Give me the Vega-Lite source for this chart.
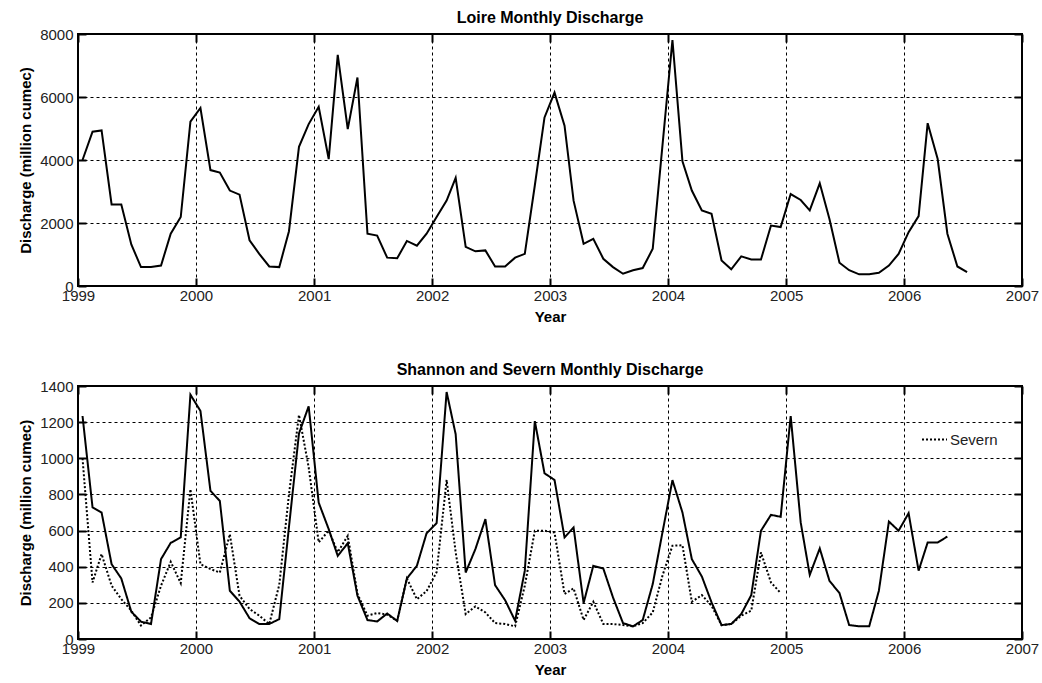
{
  "$schema": "https://vega.github.io/schema/vega-lite/v6.json",
  "padding": {"left": 17, "top": 9, "right": 5, "bottom": 5},
  "background": "white",
  "datasets": {
    "loire": [
      {"date": "1999-01-15", "q": 4000}, {"date": "1999-02-15", "q": 4900}, {"date": "1999-03-15", "q": 4940}, {"date": "1999-04-15", "q": 2590}, {"date": "1999-05-15", "q": 2590}, {"date": "1999-06-15", "q": 1320}, {"date": "1999-07-15", "q": 600}, {"date": "1999-08-15", "q": 600}, {"date": "1999-09-15", "q": 650}, {"date": "1999-10-15", "q": 1660}, {"date": "1999-11-15", "q": 2190}, {"date": "1999-12-15", "q": 5220},
      {"date": "2000-01-15", "q": 5650}, {"date": "2000-02-15", "q": 3680}, {"date": "2000-03-15", "q": 3600}, {"date": "2000-04-15", "q": 3030}, {"date": "2000-05-15", "q": 2900}, {"date": "2000-06-15", "q": 1450}, {"date": "2000-07-15", "q": 1020}, {"date": "2000-08-15", "q": 620}, {"date": "2000-09-15", "q": 600}, {"date": "2000-10-15", "q": 1740}, {"date": "2000-11-15", "q": 4420}, {"date": "2000-12-15", "q": 5140},
      {"date": "2001-01-15", "q": 5690}, {"date": "2001-02-15", "q": 4030}, {"date": "2001-03-15", "q": 7340}, {"date": "2001-04-15", "q": 4980}, {"date": "2001-05-15", "q": 6620}, {"date": "2001-06-15", "q": 1660}, {"date": "2001-07-15", "q": 1600}, {"date": "2001-08-15", "q": 900}, {"date": "2001-09-15", "q": 880}, {"date": "2001-10-15", "q": 1430}, {"date": "2001-11-15", "q": 1280}, {"date": "2001-12-15", "q": 1660},
      {"date": "2002-01-15", "q": 2190}, {"date": "2002-02-15", "q": 2710}, {"date": "2002-03-15", "q": 3430}, {"date": "2002-04-15", "q": 1240}, {"date": "2002-05-15", "q": 1100}, {"date": "2002-06-15", "q": 1130}, {"date": "2002-07-15", "q": 620}, {"date": "2002-08-15", "q": 620}, {"date": "2002-09-15", "q": 900}, {"date": "2002-10-15", "q": 1020}, {"date": "2002-11-15", "q": 3190}, {"date": "2002-12-15", "q": 5350},
      {"date": "2003-01-15", "q": 6140}, {"date": "2003-02-15", "q": 5090}, {"date": "2003-03-15", "q": 2710}, {"date": "2003-04-15", "q": 1340}, {"date": "2003-05-15", "q": 1500}, {"date": "2003-06-15", "q": 865}, {"date": "2003-07-15", "q": 600}, {"date": "2003-08-15", "q": 390}, {"date": "2003-09-15", "q": 500}, {"date": "2003-10-15", "q": 570}, {"date": "2003-11-15", "q": 1180}, {"date": "2003-12-15", "q": 4450},
      {"date": "2004-01-15", "q": 7810}, {"date": "2004-02-15", "q": 3960}, {"date": "2004-03-15", "q": 3030}, {"date": "2004-04-15", "q": 2400}, {"date": "2004-05-15", "q": 2290}, {"date": "2004-06-15", "q": 810}, {"date": "2004-07-15", "q": 530}, {"date": "2004-08-15", "q": 940}, {"date": "2004-09-15", "q": 840}, {"date": "2004-10-15", "q": 840}, {"date": "2004-11-15", "q": 1920}, {"date": "2004-12-15", "q": 1870},
      {"date": "2005-01-15", "q": 2920}, {"date": "2005-02-15", "q": 2730}, {"date": "2005-03-15", "q": 2400}, {"date": "2005-04-15", "q": 3260}, {"date": "2005-05-15", "q": 2130}, {"date": "2005-06-15", "q": 740}, {"date": "2005-07-15", "q": 500}, {"date": "2005-08-15", "q": 370}, {"date": "2005-09-15", "q": 370}, {"date": "2005-10-15", "q": 420}, {"date": "2005-11-15", "q": 650}, {"date": "2005-12-15", "q": 1020},
      {"date": "2006-01-15", "q": 1710}, {"date": "2006-02-15", "q": 2220}, {"date": "2006-03-15", "q": 5170}, {"date": "2006-04-15", "q": 4030}, {"date": "2006-05-15", "q": 1660}, {"date": "2006-06-15", "q": 620}, {"date": "2006-07-15", "q": 440}
    ],
    "ss": [
      {"date": "1999-01-15", "river": "Shannon", "q": 1234}, {"date": "1999-02-15", "river": "Shannon", "q": 728}, {"date": "1999-03-15", "river": "Shannon", "q": 700}, {"date": "1999-04-15", "river": "Shannon", "q": 414}, {"date": "1999-05-15", "river": "Shannon", "q": 335}, {"date": "1999-06-15", "river": "Shannon", "q": 151}, {"date": "1999-07-15", "river": "Shannon", "q": 96}, {"date": "1999-08-15", "river": "Shannon", "q": 83}, {"date": "1999-09-15", "river": "Shannon", "q": 442}, {"date": "1999-10-15", "river": "Shannon", "q": 532}, {"date": "1999-11-15", "river": "Shannon", "q": 562}, {"date": "1999-12-15", "river": "Shannon", "q": 1352},
      {"date": "2000-01-15", "river": "Shannon", "q": 1262}, {"date": "2000-02-15", "river": "Shannon", "q": 820}, {"date": "2000-03-15", "river": "Shannon", "q": 764}, {"date": "2000-04-15", "river": "Shannon", "q": 267}, {"date": "2000-05-15", "river": "Shannon", "q": 207}, {"date": "2000-06-15", "river": "Shannon", "q": 115}, {"date": "2000-07-15", "river": "Shannon", "q": 83}, {"date": "2000-08-15", "river": "Shannon", "q": 83}, {"date": "2000-09-15", "river": "Shannon", "q": 110}, {"date": "2000-10-15", "river": "Shannon", "q": 620}, {"date": "2000-11-15", "river": "Shannon", "q": 1137}, {"date": "2000-12-15", "river": "Shannon", "q": 1288},
      {"date": "2001-01-15", "river": "Shannon", "q": 755}, {"date": "2001-02-15", "river": "Shannon", "q": 608}, {"date": "2001-03-15", "river": "Shannon", "q": 460}, {"date": "2001-04-15", "river": "Shannon", "q": 530}, {"date": "2001-05-15", "river": "Shannon", "q": 240}, {"date": "2001-06-15", "river": "Shannon", "q": 105}, {"date": "2001-07-15", "river": "Shannon", "q": 97}, {"date": "2001-08-15", "river": "Shannon", "q": 141}, {"date": "2001-09-15", "river": "Shannon", "q": 100}, {"date": "2001-10-15", "river": "Shannon", "q": 335}, {"date": "2001-11-15", "river": "Shannon", "q": 405}, {"date": "2001-12-15", "river": "Shannon", "q": 585},
      {"date": "2002-01-15", "river": "Shannon", "q": 641}, {"date": "2002-02-15", "river": "Shannon", "q": 1367}, {"date": "2002-03-15", "river": "Shannon", "q": 1133}, {"date": "2002-04-15", "river": "Shannon", "q": 368}, {"date": "2002-05-15", "river": "Shannon", "q": 497}, {"date": "2002-06-15", "river": "Shannon", "q": 663}, {"date": "2002-07-15", "river": "Shannon", "q": 298}, {"date": "2002-08-15", "river": "Shannon", "q": 215}, {"date": "2002-09-15", "river": "Shannon", "q": 101}, {"date": "2002-10-15", "river": "Shannon", "q": 378}, {"date": "2002-11-15", "river": "Shannon", "q": 1206}, {"date": "2002-12-15", "river": "Shannon", "q": 917},
      {"date": "2003-01-15", "river": "Shannon", "q": 880}, {"date": "2003-02-15", "river": "Shannon", "q": 562}, {"date": "2003-03-15", "river": "Shannon", "q": 617}, {"date": "2003-04-15", "river": "Shannon", "q": 199}, {"date": "2003-05-15", "river": "Shannon", "q": 405}, {"date": "2003-06-15", "river": "Shannon", "q": 390}, {"date": "2003-07-15", "river": "Shannon", "q": 230}, {"date": "2003-08-15", "river": "Shannon", "q": 88}, {"date": "2003-09-15", "river": "Shannon", "q": 70}, {"date": "2003-10-15", "river": "Shannon", "q": 105}, {"date": "2003-11-15", "river": "Shannon", "q": 304}, {"date": "2003-12-15", "river": "Shannon", "q": 589},
      {"date": "2004-01-15", "river": "Shannon", "q": 879}, {"date": "2004-02-15", "river": "Shannon", "q": 700}, {"date": "2004-03-15", "river": "Shannon", "q": 442}, {"date": "2004-04-15", "river": "Shannon", "q": 346}, {"date": "2004-05-15", "river": "Shannon", "q": 203}, {"date": "2004-06-15", "river": "Shannon", "q": 77}, {"date": "2004-07-15", "river": "Shannon", "q": 83}, {"date": "2004-08-15", "river": "Shannon", "q": 138}, {"date": "2004-09-15", "river": "Shannon", "q": 243}, {"date": "2004-10-15", "river": "Shannon", "q": 599}, {"date": "2004-11-15", "river": "Shannon", "q": 687}, {"date": "2004-12-15", "river": "Shannon", "q": 676},
      {"date": "2005-01-15", "river": "Shannon", "q": 1234}, {"date": "2005-02-15", "river": "Shannon", "q": 645}, {"date": "2005-03-15", "river": "Shannon", "q": 355}, {"date": "2005-04-15", "river": "Shannon", "q": 501}, {"date": "2005-05-15", "river": "Shannon", "q": 322}, {"date": "2005-06-15", "river": "Shannon", "q": 254}, {"date": "2005-07-15", "river": "Shannon", "q": 77}, {"date": "2005-08-15", "river": "Shannon", "q": 70}, {"date": "2005-09-15", "river": "Shannon", "q": 70}, {"date": "2005-10-15", "river": "Shannon", "q": 267}, {"date": "2005-11-15", "river": "Shannon", "q": 650}, {"date": "2005-12-15", "river": "Shannon", "q": 599},
      {"date": "2006-01-15", "river": "Shannon", "q": 696}, {"date": "2006-02-15", "river": "Shannon", "q": 378}, {"date": "2006-03-15", "river": "Shannon", "q": 534}, {"date": "2006-04-15", "river": "Shannon", "q": 534}, {"date": "2006-05-15", "river": "Shannon", "q": 567},
      {"date": "1999-01-15", "river": "Severn", "q": 1000}, {"date": "1999-02-15", "river": "Severn", "q": 313}, {"date": "1999-03-15", "river": "Severn", "q": 470}, {"date": "1999-04-15", "river": "Severn", "q": 295}, {"date": "1999-05-15", "river": "Severn", "q": 221}, {"date": "1999-06-15", "river": "Severn", "q": 157}, {"date": "1999-07-15", "river": "Severn", "q": 74}, {"date": "1999-08-15", "river": "Severn", "q": 120}, {"date": "1999-09-15", "river": "Severn", "q": 295}, {"date": "1999-10-15", "river": "Severn", "q": 427}, {"date": "1999-11-15", "river": "Severn", "q": 309}, {"date": "1999-12-15", "river": "Severn", "q": 829},
      {"date": "2000-01-15", "river": "Severn", "q": 414}, {"date": "2000-02-15", "river": "Severn", "q": 387}, {"date": "2000-03-15", "river": "Severn", "q": 368}, {"date": "2000-04-15", "river": "Severn", "q": 580}, {"date": "2000-05-15", "river": "Severn", "q": 239}, {"date": "2000-06-15", "river": "Severn", "q": 166}, {"date": "2000-07-15", "river": "Severn", "q": 129}, {"date": "2000-08-15", "river": "Severn", "q": 83}, {"date": "2000-09-15", "river": "Severn", "q": 300}, {"date": "2000-10-15", "river": "Severn", "q": 800}, {"date": "2000-11-15", "river": "Severn", "q": 1240}, {"date": "2000-12-15", "river": "Severn", "q": 950},
      {"date": "2001-01-15", "river": "Severn", "q": 535}, {"date": "2001-02-15", "river": "Severn", "q": 600}, {"date": "2001-03-15", "river": "Severn", "q": 480}, {"date": "2001-04-15", "river": "Severn", "q": 571}, {"date": "2001-05-15", "river": "Severn", "q": 250}, {"date": "2001-06-15", "river": "Severn", "q": 129}, {"date": "2001-07-15", "river": "Severn", "q": 144}, {"date": "2001-08-15", "river": "Severn", "q": 135}, {"date": "2001-09-15", "river": "Severn", "q": 101}, {"date": "2001-10-15", "river": "Severn", "q": 335}, {"date": "2001-11-15", "river": "Severn", "q": 220}, {"date": "2001-12-15", "river": "Severn", "q": 265},
      {"date": "2002-01-15", "river": "Severn", "q": 370}, {"date": "2002-02-15", "river": "Severn", "q": 880}, {"date": "2002-03-15", "river": "Severn", "q": 480}, {"date": "2002-04-15", "river": "Severn", "q": 138}, {"date": "2002-05-15", "river": "Severn", "q": 180}, {"date": "2002-06-15", "river": "Severn", "q": 147}, {"date": "2002-07-15", "river": "Severn", "q": 88}, {"date": "2002-08-15", "river": "Severn", "q": 83}, {"date": "2002-09-15", "river": "Severn", "q": 70}, {"date": "2002-10-15", "river": "Severn", "q": 295}, {"date": "2002-11-15", "river": "Severn", "q": 599}, {"date": "2002-12-15", "river": "Severn", "q": 599},
      {"date": "2003-01-15", "river": "Severn", "q": 589}, {"date": "2003-02-15", "river": "Severn", "q": 249}, {"date": "2003-03-15", "river": "Severn", "q": 280}, {"date": "2003-04-15", "river": "Severn", "q": 105}, {"date": "2003-05-15", "river": "Severn", "q": 206}, {"date": "2003-06-15", "river": "Severn", "q": 83}, {"date": "2003-07-15", "river": "Severn", "q": 83}, {"date": "2003-08-15", "river": "Severn", "q": 77}, {"date": "2003-09-15", "river": "Severn", "q": 70}, {"date": "2003-10-15", "river": "Severn", "q": 88}, {"date": "2003-11-15", "river": "Severn", "q": 147}, {"date": "2003-12-15", "river": "Severn", "q": 350},
      {"date": "2004-01-15", "river": "Severn", "q": 516}, {"date": "2004-02-15", "river": "Severn", "q": 519}, {"date": "2004-03-15", "river": "Severn", "q": 206}, {"date": "2004-04-15", "river": "Severn", "q": 243}, {"date": "2004-05-15", "river": "Severn", "q": 184}, {"date": "2004-06-15", "river": "Severn", "q": 77}, {"date": "2004-07-15", "river": "Severn", "q": 83}, {"date": "2004-08-15", "river": "Severn", "q": 129}, {"date": "2004-09-15", "river": "Severn", "q": 157}, {"date": "2004-10-15", "river": "Severn", "q": 479}, {"date": "2004-11-15", "river": "Severn", "q": 313}, {"date": "2004-12-15", "river": "Severn", "q": 254}
    ]
  },
  "vconcat": [
    {
      "width": 944,
      "height": 252,
      "title": {"text": "Loire Monthly Discharge"},
      "data": {"name": "loire"},
      "layer": [
        {
          "mark": {"type": "line", "color": "black", "strokeWidth": 2},
          "encoding": {
            "x": {"field": "date", "type": "temporal",
              "scale": {"type": "utc", "domain": [{"year": 1999, "month": 1, "date": 1, "utc": true}, {"year": 2007, "month": 1, "date": 1, "utc": true}]},
              "axis": {"orient": "bottom", "title": "Year", "format": "%Y", "tickCount": {"interval": "year", "step": 1}, "grid": true, "ticks": true, "tickSize": -8, "labelPadding": 10}},
            "y": {"field": "q", "type": "quantitative",
              "scale": {"domain": [0, 8000], "nice": false},
              "axis": {"orient": "left", "title": "Discharge (million cumec)", "format": "d", "values": [0, 2000, 4000, 6000, 8000], "grid": true, "ticks": true, "tickSize": -8, "labelPadding": 13}}
          }
        },
        {
          "mark": {"type": "point", "opacity": 0},
          "encoding": {
            "x": {"field": "date", "type": "temporal",
              "scale": {"type": "utc", "domain": [{"year": 1999, "month": 1, "date": 1, "utc": true}, {"year": 2007, "month": 1, "date": 1, "utc": true}]},
              "axis": {"orient": "top", "title": null, "labels": false, "tickCount": {"interval": "year", "step": 1}, "grid": false, "ticks": true, "tickSize": -8}},
            "y": {"field": "q", "type": "quantitative",
              "scale": {"domain": [0, 8000], "nice": false},
              "axis": {"orient": "right", "title": null, "labels": false, "values": [0, 2000, 4000, 6000, 8000], "grid": false, "ticks": true, "tickSize": -8}}
          }
        }
      ],
      "resolve": {"axis": {"x": "independent", "y": "independent"}}
    },
    {
      "width": 944,
      "height": 253,
      "title": {"text": "Shannon and Severn Monthly Discharge"},
      "data": {"name": "ss"},
      "layer": [
        {
          "mark": {"type": "line", "color": "black", "strokeWidth": 2},
          "encoding": {
            "x": {"field": "date", "type": "temporal",
              "scale": {"type": "utc", "domain": [{"year": 1999, "month": 1, "date": 1, "utc": true}, {"year": 2007, "month": 1, "date": 1, "utc": true}]},
              "axis": {"orient": "bottom", "title": "Year", "format": "%Y", "tickCount": {"interval": "year", "step": 1}, "grid": true, "ticks": true, "tickSize": -8, "labelPadding": 10}},
            "y": {"field": "q", "type": "quantitative",
              "scale": {"domain": [0, 1400], "nice": false},
              "axis": {"orient": "left", "title": "Discharge (million cumec)", "format": "d", "values": [0, 200, 400, 600, 800, 1000, 1200, 1400], "grid": true, "ticks": true, "tickSize": -8, "labelPadding": 13}},
            "strokeDash": {"field": "river", "type": "nominal",
              "scale": {"domain": ["Shannon", "Severn"], "range": [[1, 0], [2, 2]]},
              "legend": {"values": ["Severn"], "title": null, "orient": "none", "legendX": 843, "legendY": 40, "symbolType": "stroke", "symbolSize": 625, "symbolStrokeWidth": 2, "symbolStrokeColor": "black", "labelFontSize": 15, "labelColor": "#222222", "labelOffset": 2, "labelFont": "Liberation Sans"}}
          }
        },
        {
          "mark": {"type": "point", "opacity": 0},
          "encoding": {
            "x": {"field": "date", "type": "temporal",
              "scale": {"type": "utc", "domain": [{"year": 1999, "month": 1, "date": 1, "utc": true}, {"year": 2007, "month": 1, "date": 1, "utc": true}]},
              "axis": {"orient": "top", "title": null, "labels": false, "tickCount": {"interval": "year", "step": 1}, "grid": false, "ticks": true, "tickSize": -8}},
            "y": {"field": "q", "type": "quantitative",
              "scale": {"domain": [0, 1400], "nice": false},
              "axis": {"orient": "right", "title": null, "labels": false, "values": [0, 200, 400, 600, 800, 1000, 1200, 1400], "grid": false, "ticks": true, "tickSize": -8}}
          }
        }
      ],
      "resolve": {"axis": {"x": "independent", "y": "independent"}}
    }
  ],
  "spacing": 36,
  "resolve": {"scale": {"strokeDash": "independent"}, "legend": {"strokeDash": "independent"}},
  "config": {
    "font": "Liberation Sans",
    "view": {"stroke": "black", "strokeWidth": 2},
    "axis": {
      "domain": false,
      "labelFont": "Liberation Sans", "labelFontSize": 15, "labelColor": "#222222",
      "titleFont": "Liberation Sans", "titleFontSize": 15, "titleFontWeight": "bold", "titleColor": "black",
      "tickColor": "black", "tickWidth": 2,
      "gridColor": "black", "gridOpacity": 1, "gridWidth": 1, "gridDash": [3, 3],
      "titlePadding": 6, "labelFlush": false, "labelOverlap": false
    },
    "title": {"font": "Liberation Sans", "fontSize": 16, "fontWeight": "bold", "color": "black", "anchor": "middle", "frame": "group", "offset": 1}
  }
}
